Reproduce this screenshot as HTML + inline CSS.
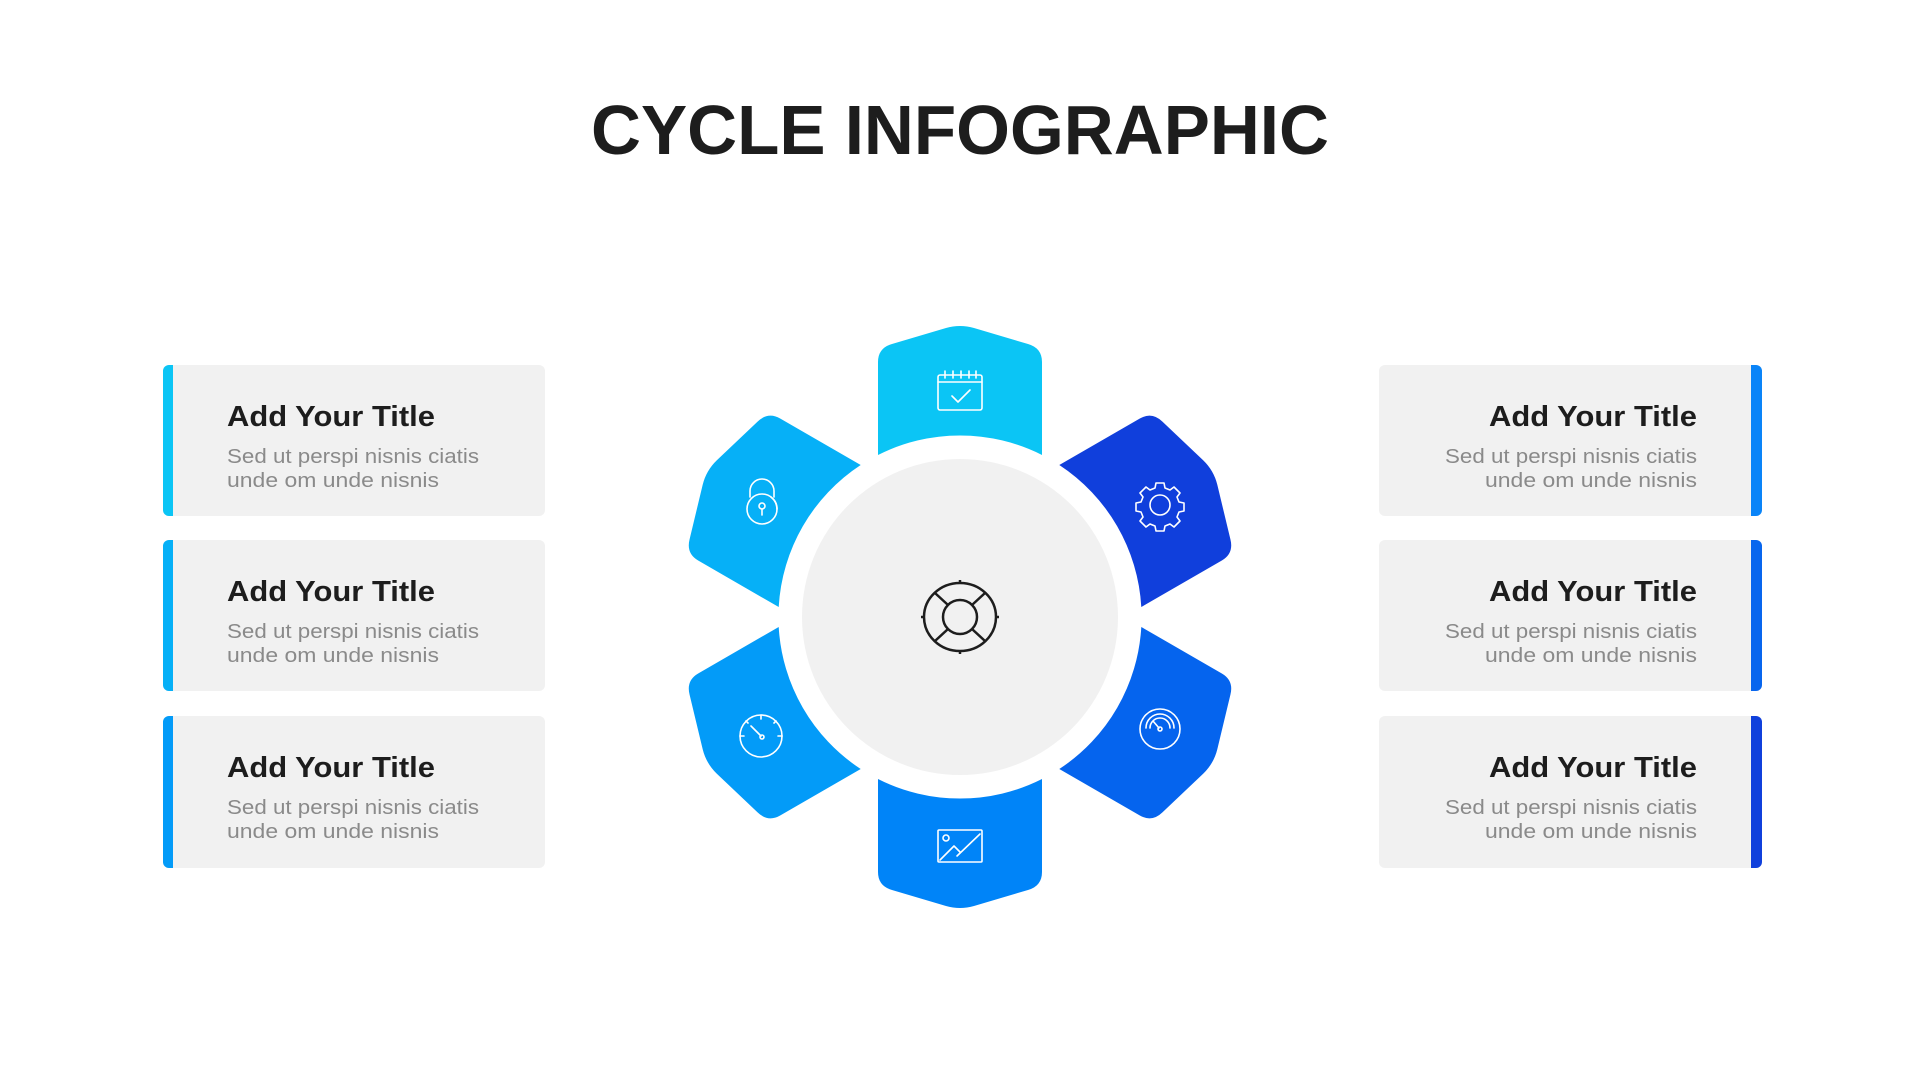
<!DOCTYPE html>
<html><head><meta charset="utf-8"><style>
html,body{margin:0;padding:0;background:#fff;}
svg{display:block;}
</style></head><body>
<svg width="1920" height="1080" viewBox="0 0 1920 1080" xmlns="http://www.w3.org/2000/svg" font-family="'Liberation Sans', sans-serif">
<rect width="1920" height="1080" fill="#fff"/>
<text x="960" y="154" text-anchor="middle" font-size="70" font-weight="bold" fill="#1d1d1d" textLength="738" lengthAdjust="spacingAndGlyphs">CYCLE INFOGRAPHIC</text>

<!-- Left cards -->
<g>
  <rect x="163" y="365" width="382" height="151" rx="6" fill="#f1f1f1"/>
  <path d="M169 365 h4 v151 h-4 a6 6 0 0 1 -6 -6 v-139 a6 6 0 0 1 6 -6z" fill="#0BC5F5"/>
  <text x="227" y="426" font-size="29" font-weight="bold" fill="#1d1d1d" textLength="208" lengthAdjust="spacingAndGlyphs">Add Your Title</text>
  <text x="227" y="463" font-size="20" fill="#8a8a8a" textLength="252" lengthAdjust="spacingAndGlyphs">Sed ut perspi nisnis ciatis</text>
  <text x="227" y="487" font-size="20" fill="#8a8a8a" textLength="212" lengthAdjust="spacingAndGlyphs">unde om unde nisnis</text>

  <rect x="163" y="540" width="382" height="151" rx="6" fill="#f1f1f1"/>
  <path d="M169 540 h4 v151 h-4 a6 6 0 0 1 -6 -6 v-139 a6 6 0 0 1 6 -6z" fill="#06B0F7"/>
  <text x="227" y="601" font-size="29" font-weight="bold" fill="#1d1d1d" textLength="208" lengthAdjust="spacingAndGlyphs">Add Your Title</text>
  <text x="227" y="638" font-size="20" fill="#8a8a8a" textLength="252" lengthAdjust="spacingAndGlyphs">Sed ut perspi nisnis ciatis</text>
  <text x="227" y="662" font-size="20" fill="#8a8a8a" textLength="212" lengthAdjust="spacingAndGlyphs">unde om unde nisnis</text>

  <rect x="163" y="716" width="382" height="152" rx="6" fill="#f1f1f1"/>
  <path d="M169 716 h4 v152 h-4 a6 6 0 0 1 -6 -6 v-140 a6 6 0 0 1 6 -6z" fill="#039BF8"/>
  <text x="227" y="777" font-size="29" font-weight="bold" fill="#1d1d1d" textLength="208" lengthAdjust="spacingAndGlyphs">Add Your Title</text>
  <text x="227" y="814" font-size="20" fill="#8a8a8a" textLength="252" lengthAdjust="spacingAndGlyphs">Sed ut perspi nisnis ciatis</text>
  <text x="227" y="838" font-size="20" fill="#8a8a8a" textLength="212" lengthAdjust="spacingAndGlyphs">unde om unde nisnis</text>
</g>

<!-- Right cards -->
<g>
  <rect x="1379" y="365" width="383" height="151" rx="6" fill="#f1f1f1"/>
  <path d="M1751 365 h5 a6 6 0 0 1 6 6 v139 a6 6 0 0 1 -6 6 h-5z" fill="#0A84F8"/>
  <text x="1697" y="426" text-anchor="end" font-size="29" font-weight="bold" fill="#1d1d1d" textLength="208" lengthAdjust="spacingAndGlyphs">Add Your Title</text>
  <text x="1697" y="463" text-anchor="end" font-size="20" fill="#8a8a8a" textLength="252" lengthAdjust="spacingAndGlyphs">Sed ut perspi nisnis ciatis</text>
  <text x="1697" y="487" text-anchor="end" font-size="20" fill="#8a8a8a" textLength="212" lengthAdjust="spacingAndGlyphs">unde om unde nisnis</text>

  <rect x="1379" y="540" width="383" height="151" rx="6" fill="#f1f1f1"/>
  <path d="M1751 540 h5 a6 6 0 0 1 6 6 v139 a6 6 0 0 1 -6 6 h-5z" fill="#0866EE"/>
  <text x="1697" y="601" text-anchor="end" font-size="29" font-weight="bold" fill="#1d1d1d" textLength="208" lengthAdjust="spacingAndGlyphs">Add Your Title</text>
  <text x="1697" y="638" text-anchor="end" font-size="20" fill="#8a8a8a" textLength="252" lengthAdjust="spacingAndGlyphs">Sed ut perspi nisnis ciatis</text>
  <text x="1697" y="662" text-anchor="end" font-size="20" fill="#8a8a8a" textLength="212" lengthAdjust="spacingAndGlyphs">unde om unde nisnis</text>

  <rect x="1379" y="716" width="383" height="152" rx="6" fill="#f1f1f1"/>
  <path d="M1751 716 h5 a6 6 0 0 1 6 6 v140 a6 6 0 0 1 -6 6 h-5z" fill="#1040DC"/>
  <text x="1697" y="777" text-anchor="end" font-size="29" font-weight="bold" fill="#1d1d1d" textLength="208" lengthAdjust="spacingAndGlyphs">Add Your Title</text>
  <text x="1697" y="814" text-anchor="end" font-size="20" fill="#8a8a8a" textLength="252" lengthAdjust="spacingAndGlyphs">Sed ut perspi nisnis ciatis</text>
  <text x="1697" y="838" text-anchor="end" font-size="20" fill="#8a8a8a" textLength="212" lengthAdjust="spacingAndGlyphs">unde om unde nisnis</text>
</g>

<!-- Wheel -->
<defs>
  <path id="seg" d="M -82,-162 L -82,-255 Q -82,-269 -68,-273 L -14,-289 Q 0,-293 14,-289 L 68,-273 Q 82,-269 82,-255 L 82,-162 A 182 182 0 0 0 -82,-162 Z"/>
</defs>
<g transform="translate(960,617)">
  <use href="#seg" fill="#0BC5F5"/>
  <use href="#seg" fill="#103FDC" transform="rotate(60)"/>
  <use href="#seg" fill="#0564EE" transform="rotate(120)"/>
  <use href="#seg" fill="#0084F8" transform="rotate(180)"/>
  <use href="#seg" fill="#039BF8" transform="rotate(240)"/>
  <use href="#seg" fill="#06B0F7" transform="rotate(300)"/>
  <circle r="158" fill="#f1f1f1"/>

  <!-- center lifebuoy -->
  <g fill="none" stroke="#1d1d1d" stroke-width="2.5">
    <ellipse rx="36" ry="34"/>
    <circle r="17"/>
    <path d="M-12,-12 L-25,-24 M12,-12 L25,-24 M-12,12 L-25,24 M12,12 L25,24 M0,-34 v-3 M0,34 v3 M-36,0 h-3 M36,0 h3"/>
  </g>

  <g fill="none" stroke="#fff" stroke-width="1.6" stroke-linecap="round" stroke-linejoin="round">
    <g transform="translate(0,-224)">
      <rect x="-22" y="-18" width="44" height="35" rx="2"/>
      <path d="M-22,-11 h44 M-15,-22 v7 M-7,-22 v7 M1,-22 v7 M9,-22 v7 M16,-22 v7 M-8,3 l6,6 l12,-12"/>
    </g>
    <g transform="translate(200,-112)">
      <circle r="10"/>
      <path d="M-4,-22 h8 l1,5 l5,2 l4,-3 l6,6 l-3,4 l2,5 l5,1 v8 l-5,1 l-2,5 l3,4 l-6,6 l-4,-3 l-5,2 l-1,5 h-8 l-1,-5 l-5,-2 l-4,3 l-6,-6 l3,-4 l-2,-5 l-5,-1 v-8 l5,-1 l2,-5 l-3,-4 l6,-6 l4,3 l5,-2 z"/>
    </g>
    <g transform="translate(200,112)">
      <circle r="20"/>
      <path d="M-14,-1 A14 14 0 0 1 14,-1 M-10,-1 A10 10 0 0 1 10,-1 M-7,-8 L-1,-1"/>
      <circle cx="0" cy="0" r="2"/>
    </g>
    <g transform="translate(0,229)">
      <rect x="-22" y="-16" width="44" height="32" rx="1"/>
      <circle cx="-14" cy="-8" r="3"/>
      <path d="M-20,14 L-6,0 L0,6 M-3,10 L20,-12"/>
    </g>
    <g transform="translate(-199,119)">
      <circle r="21"/>
      <path d="M0,-21 v4 M-15,-15 l2,2 M15,-15 l-2,2 M-21,0 h4 M21,0 h-4 M-10,-10 L0,0"/>
      <circle cx="1" cy="1" r="2"/>
    </g>
    <g transform="translate(-198,-114)">
      <path d="M-12,-6 v-6 a12 12 0 0 1 24 0 v6"/>
      <circle cx="0" cy="6" r="15"/>
      <circle cx="0" cy="3" r="3"/>
      <path d="M0,6 v6 M9,-6 a15 15 0 0 1 6,12"/>
    </g>
  </g>
</g>
</svg>
</body></html>
